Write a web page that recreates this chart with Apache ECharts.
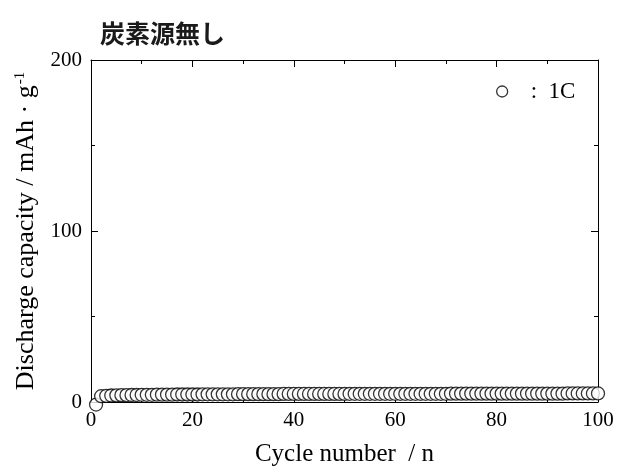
<!DOCTYPE html>
<html>
<head>
<meta charset="utf-8">
<script src="https://cdn.jsdelivr.net/npm/echarts@6/dist/echarts.min.js"></script>
<style>
  html, body { margin: 0; padding: 0; background: #fff; }
  #chart { width: 619px; height: 472px; }
</style>
</head>
<body>
<div id="chart"></div>
<script>
// Discharge capacity per cycle at 1C, sample without carbon source
const cycles = [
  1, 2, 3, 4, 5, 6, 7, 8, 9, 10,
  11, 12, 13, 14, 15, 16, 17, 18, 19, 20,
  21, 22, 23, 24, 25, 26, 27, 28, 29, 30,
  31, 32, 33, 34, 35, 36, 37, 38, 39, 40,
  41, 42, 43, 44, 45, 46, 47, 48, 49, 50,
  51, 52, 53, 54, 55, 56, 57, 58, 59, 60,
  61, 62, 63, 64, 65, 66, 67, 68, 69, 70,
  71, 72, 73, 74, 75, 76, 77, 78, 79, 80,
  81, 82, 83, 84, 85, 86, 87, 88, 89, 90,
  91, 92, 93, 94, 95, 96, 97, 98, 99, 100
];
const capacity1C = [
  -1.5, 3.4, 3.6, 3.8, 3.9, 4.0, 4.0, 4.1, 4.1, 4.2,
  4.2, 4.2, 4.3, 4.3, 4.3, 4.3, 4.4, 4.4, 4.4, 4.4,
  4.4, 4.5, 4.5, 4.5, 4.5, 4.5, 4.5, 4.5, 4.6, 4.6,
  4.6, 4.6, 4.6, 4.6, 4.6, 4.6, 4.6, 4.7, 4.7, 4.7,
  4.7, 4.7, 4.7, 4.7, 4.7, 4.7, 4.7, 4.7, 4.7, 4.7,
  4.8, 4.8, 4.8, 4.8, 4.8, 4.8, 4.8, 4.8, 4.8, 4.8,
  4.8, 4.8, 4.8, 4.8, 4.8, 4.8, 4.8, 4.8, 4.8, 4.8,
  4.9, 4.9, 4.9, 4.9, 4.9, 4.9, 4.9, 4.9, 4.9, 4.9,
  4.9, 4.9, 4.9, 4.9, 4.9, 4.9, 4.9, 4.9, 4.9, 4.9,
  4.9, 4.9, 4.9, 5.0, 5.0, 5.0, 5.0, 5.0, 5.0, 5.0
];
const xTicks = { min: 0, max: 100, interval: 20 };
const yTicks = { min: 0, max: 200, interval: 100 };
const seriesName = ':  1C';

const serif = '"Liberation Serif", "Times New Roman", serif';
const chart = echarts.init(document.getElementById('chart'));

const frameLine = { show: true, onZero: false, lineStyle: { color: '#000', width: 1 } };
const tickIn = { show: true, inside: true, length: 7, lineStyle: { color: '#000', width: 1 } };
const minorIn = { show: true, splitNumber: 2, length: 4, lineStyle: { color: '#000', width: 1 } };
const markStyle = { color: '#fff', borderColor: '#000', borderWidth: 1.3 };

const points = cycles.map((c, i) => [c, capacity1C[i]]);

chart.setOption({
  animation: false,
  backgroundColor: '#fff',
  title: {
    text: '炭素源無し',
    left: 95, top: 16,
    textStyle: { fontFamily: '"Noto Sans CJK JP", sans-serif', fontSize: 25, fontWeight: 'bold', color: '#1a1a1a' }
  },
  grid: { left: 91, right: 21, top: 60, bottom: 68 },
  legend: {
    left: 491, top: 75,
    icon: 'circle',
    itemWidth: 11, itemHeight: 11,
    itemStyle: markStyle,
    textStyle: { fontFamily: serif, fontSize: 23, color: '#000', padding: [0, 0, 0, 18] },
    data: [seriesName]
  },
  xAxis: [{
    type: 'value', min: xTicks.min, max: xTicks.max, interval: xTicks.interval,
    axisLine: frameLine, axisTick: tickIn, minorTick: minorIn,
    splitLine: { show: false },
    axisLabel: { fontFamily: serif, fontSize: 21, color: '#000', margin: 8 },
    name: 'Cycle number  / n', nameLocation: 'middle', nameGap: 40,
    nameTextStyle: { fontFamily: serif, fontSize: 25, color: '#000' }
  }, {
    type: 'value', position: 'top', min: xTicks.min, max: xTicks.max, interval: xTicks.interval,
    axisLine: frameLine, axisTick: tickIn, minorTick: minorIn,
    splitLine: { show: false }, axisLabel: { show: false }
  }],
  yAxis: [{
    type: 'value', min: yTicks.min, max: yTicks.max, interval: yTicks.interval,
    axisLine: frameLine, axisTick: tickIn, minorTick: minorIn,
    splitLine: { show: false },
    axisLabel: { fontFamily: serif, fontSize: 21, color: '#000', margin: 9 },
    name: '{t|Discharge capacity / mAh · g}{s|-1}', nameLocation: 'middle', nameGap: 51,
    nameTextStyle: {
      fontFamily: serif, fontSize: 26, color: '#000',
      rich: {
        t: { fontFamily: serif, fontSize: 26, color: '#000' },
        s: { fontFamily: serif, fontSize: 15, color: '#000', verticalAlign: 'top', padding: [0, 0, 12, 1] }
      }
    }
  }, {
    type: 'value', position: 'right', min: yTicks.min, max: yTicks.max, interval: yTicks.interval,
    axisLine: frameLine, axisTick: tickIn, minorTick: minorIn,
    splitLine: { show: false }, axisLabel: { show: false }
  }],
  series: [{
    name: seriesName,
    type: 'scatter',
    data: points,
    symbol: 'circle',
    symbolSize: 13,
    clip: false,
    itemStyle: markStyle
  }]
});
</script>
</body>
</html>
